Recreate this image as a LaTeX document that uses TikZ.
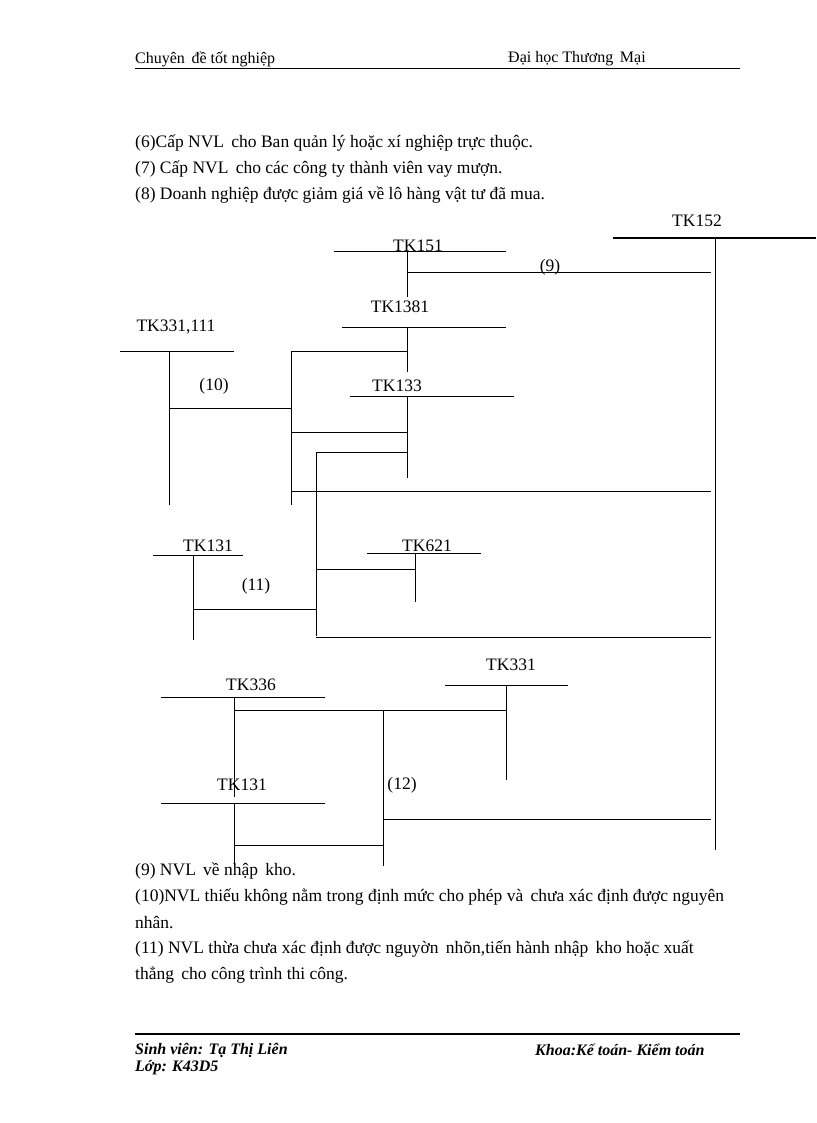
\documentclass[tikz,border=0pt]{standalone}
\usepackage{fontspec}
\setmainfont{Liberation Serif}
\begin{document}
\begin{tikzpicture}[x=1pt,y=-1pt,every node/.style={inner sep=0pt,font=\fontsize{17.5}{19}\selectfont},
 txt/.style={anchor=west},hf/.style={anchor=west,font=\fontsize{16}{18}\selectfont},
 ft/.style={anchor=west,font=\fontsize{16}{18}\selectfont\bfseries\itshape},ln/.style={line width=1pt}]
\useasboundingbox (0,0) rectangle (816,1123);
\node[hf] at (135,59) {Chuyên\, đề tốt nghiệp};
\node[hf] at (508,59) {Đại học Thương\, Mại};
\draw[ln] (135,69) -- (740,69);
\node[txt] at (135,143) {(6)Cấp NVL\, cho Ban quản lý hoặc xí nghiệp trực thuộc.};
\node[txt] at (135,169) {(7) Cấp NVL\, cho các công ty thành viên vay mượn.};
\node[txt] at (135,195) {(8) Doanh nghiệp được giảm giá về lô hàng vật tư đã mua.};
\begin{scope}[ln]
\node at (697,221) {TK152};
\draw (613,238)--(816,238); \draw (715,238)--(715,850);
\node at (418,246) {TK151};
\draw (334,251)--(506,251); \draw (407,251)--(407,297); \draw (407,272)--(711,272);
\node at (550,267) {(9)};
\node at (400,307) {TK1381};
\draw (342,327)--(506,327); \draw (407,327)--(407,372);
\node at (176,327) {TK331,111};
\draw (120,351)--(234,351); \draw (169,351)--(169,505);
\node at (214,386) {(10)}; \draw (169,408)--(291,408);
\draw (291,351)--(291,505); \draw (291,351)--(407,351);
\node at (397,386) {TK133};
\draw (350,396)--(514,396); \draw (407,396)--(407,478);
\draw (291,432)--(407,432); \draw (316,452)--(407,452); \draw (316,452)--(316,636);
\draw (291,491)--(711,491);
\node at (208,546) {TK131};
\draw (153,555)--(243,555); \draw (193,555)--(193,640);
\node at (256,586) {(11)}; \draw (193,609)--(316,609);
\node at (427,546) {TK621};
\draw (367,553)--(481,553); \draw (415,553)--(415,602); \draw (316,569)--(415,569);
\draw (316,637)--(711,637);
\node at (511,665) {TK331};
\draw (445,685)--(568,685); \draw (506,685)--(506,780);
\node at (251,685) {TK336};
\draw (161,697)--(325,697); \draw (234,697)--(234,797); \draw (234,710)--(506,710);
\draw (383,710)--(383,866);
\node at (242,785) {TK131};
\draw (161,803)--(325,803); \draw (234,803)--(234,866); \draw (234,845)--(383,845);
\node at (402,785) {(12)}; \draw (383,819)--(711,819);
\end{scope}
\node[txt] at (135,871) {(9) NVL\, về nhập\, kho.};
\node[txt] at (135,897) {(10)NVL thiếu không nằm trong định mức cho phép và\, chưa xác định được nguyên};
\node[txt] at (135,923) {nhân.};
\node[txt] at (135,949) {(11) NVL thừa chưa xác định được nguyờn\, nhõn,tiến hành nhập\, kho hoặc xuất};
\node[txt] at (135,975) {thẳng\, cho công trình thi công.};
\draw[line width=1.2pt] (135,1034) -- (740,1034);
\node[ft] at (135,1050) {Sinh viên: Tạ Thị Liên};
\node[ft] at (535,1050) {Khoa:Kế toán- Kiểm toán};
\node[ft] at (135,1068) {Lớp: K43D5};
\end{tikzpicture}
\end{document}
